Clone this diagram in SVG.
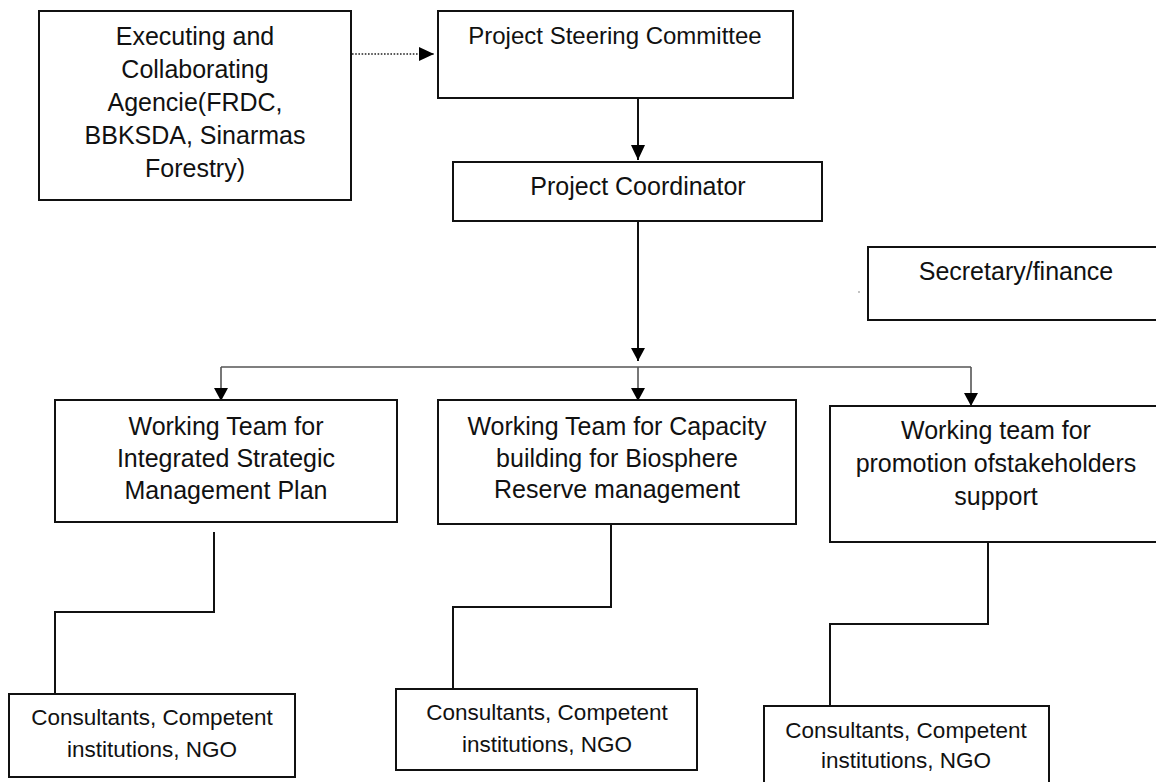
<svg xmlns="http://www.w3.org/2000/svg" width="1156" height="782" viewBox="0 0 1156 782">
<style>
.box{fill:#fff;stroke:#111;stroke-width:2}
.t{font-family:"Liberation Sans",Arial,sans-serif;font-size:25px;fill:#111;text-anchor:middle}
.ts{font-family:"Liberation Sans",Arial,sans-serif;font-size:22.5px;fill:#111;text-anchor:middle}
.c{fill:none;stroke:#111;stroke-width:2}
.g{fill:none;stroke:#555;stroke-width:1.6}
.d{fill:none;stroke:#222;stroke-width:1.6;stroke-dasharray:1.6 1.6}
</style>
<defs>
<marker id="ah" markerUnits="userSpaceOnUse" markerWidth="16" markerHeight="16" viewBox="0 0 16 16" refX="15" refY="8" orient="auto">
<path d="M0,1 L15,8 L0,15 z" fill="#000" stroke="none"/>
</marker>
<marker id="ahs" markerUnits="userSpaceOnUse" markerWidth="16" markerHeight="16" viewBox="0 0 16 16" refX="13" refY="8" orient="auto">
<path d="M0,1 L13,8 L0,15 z" fill="#000" stroke="none"/>
</marker>
</defs>
<rect width="1156" height="782" fill="#fff"/>
<g id="connectors">
<line class="d" x1="352" y1="54" x2="434" y2="54" marker-end="url(#ah)"/>
<line class="c" x1="638" y1="98" x2="638" y2="160" marker-end="url(#ah)"/>
<line class="c" x1="638" y1="221" x2="638" y2="361" marker-end="url(#ahs)"/>
<polyline class="g" points="221,367 971,367"/>
<line class="g" x1="221" y1="367" x2="221" y2="401" marker-end="url(#ahs)"/>
<line class="g" x1="638" y1="367" x2="638" y2="401" marker-end="url(#ahs)"/>
<line class="g" x1="971" y1="367" x2="971" y2="406" marker-end="url(#ahs)"/>
<polyline class="c" points="214,532 214,612 55,612 55,694"/>
<polyline class="c" points="611,524 611,607 453,607 453,689"/>
<polyline class="c" points="988,542 988,624 830,624 830,706"/>
<circle cx="859" cy="292" r="0.8" fill="#777"/>
</g>
<g id="n-executing">
<rect class="box" x="39" y="11" width="312" height="189"/>
<text class="t" x="195" y="45">Executing and</text>
<text class="t" x="195" y="78">Collaborating</text>
<text class="t" x="195" y="111">Agencie(FRDC,</text>
<text class="t" x="195" y="144">BBKSDA, Sinarmas</text>
<text class="t" x="195" y="177">Forestry)</text>
</g>
<g id="n-steering">
<rect class="box" x="438" y="11" width="355" height="87"/>
<text class="t" x="615" y="44" style="font-size:24px">Project Steering Committee</text>
</g>
<g id="n-coordinator">
<rect class="box" x="453" y="162" width="369" height="59"/>
<text class="t" x="638" y="195">Project Coordinator</text>
</g>
<g id="n-secretary">
<rect class="box" x="868" y="247" width="300" height="73"/>
<text class="t" x="1016" y="280">Secretary/finance</text>
</g>
<g id="n-wt1">
<rect class="box" x="55" y="400" width="342" height="122"/>
<text class="t" x="226" y="435">Working Team for</text>
<text class="t" x="226" y="467">Integrated Strategic</text>
<text class="t" x="226" y="499">Management Plan</text>
</g>
<g id="n-wt2">
<rect class="box" x="438" y="400" width="358" height="124"/>
<text class="t" x="617" y="435">Working Team for Capacity</text>
<text class="t" x="617" y="467">building for Biosphere</text>
<text class="t" x="617" y="498">Reserve management</text>
</g>
<g id="n-wt3">
<rect class="box" x="830" y="406" width="340" height="136"/>
<text class="t" x="996" y="439">Working team for</text>
<text class="t" x="996" y="472">promotion ofstakeholders</text>
<text class="t" x="996" y="505">support</text>
</g>
<g id="n-b1">
<rect class="box" x="9" y="694" width="286" height="83"/>
<text class="ts" x="152" y="725">Consultants, Competent</text>
<text class="ts" x="152" y="757">institutions, NGO</text>
</g>
<g id="n-b2">
<rect class="box" x="396" y="689" width="301" height="81"/>
<text class="ts" x="547" y="720">Consultants, Competent</text>
<text class="ts" x="547" y="752">institutions, NGO</text>
</g>
<g id="n-b3">
<rect class="box" x="764" y="706" width="285" height="90"/>
<text class="ts" x="906" y="738">Consultants, Competent</text>
<text class="ts" x="906" y="768">institutions, NGO</text>
</g>
</svg>
